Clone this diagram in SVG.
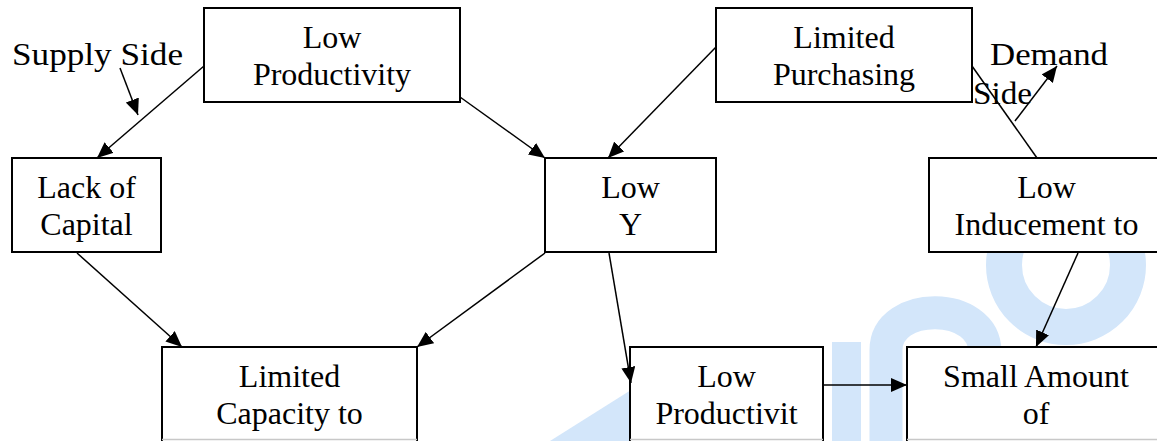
<svg xmlns="http://www.w3.org/2000/svg" width="1157" height="441" viewBox="0 0 1157 441">
  <style>
    .box { fill: #ffffff; stroke: #000000; stroke-width: 2; }
    .lbl { font-size: 32px; fill: #000000; text-anchor: middle; }
    .side { font-size: 32px; fill: #000000; }
    .edge { stroke: #000000; stroke-width: 1.5; fill: none; }
    .arrow { marker-end: url(#ah); }
    .cut { stroke: #c8c8c8; stroke-width: 1.5; }
    .mark { fill: #d3e6fa; }
    .markline { fill: none; stroke: #d3e6fa; }
  </style>
  <defs>
    <marker id="ah" markerUnits="userSpaceOnUse" markerWidth="16" markerHeight="14" viewBox="0 0 16 14" refX="16" refY="7" orient="auto">
      <path d="M0,0 L16,7 L0,14 z" fill="#000000"/>
    </marker>
  </defs>

  <rect x="0" y="0" width="1157" height="441" fill="#ffffff"/>

  <!-- faint background logo -->
  <g id="logo">
    <polygon class="mark" points="550,441 631,390 631,441"/>
    <rect class="mark" x="832" y="342" width="29" height="99"/>
    <path class="markline" stroke-width="33" d="M886,441 L886,350 C886,300 985,300 985,352"/>
    <circle class="markline" cx="1066" cy="265" r="62" stroke-width="36"/>
  </g>

  <g font-family="Liberation Serif, Times New Roman, DejaVu Serif, serif">
    <!-- side captions -->
    <g id="supply-side">
      <text class="side" x="12" y="65" textLength="171" lengthAdjust="spacingAndGlyphs">Supply Side</text>
    </g>
    <g id="demand-side">
      <text class="side" x="990" y="65" textLength="118" lengthAdjust="spacingAndGlyphs">Demand</text>
      <text class="side" x="973" y="104" textLength="59" lengthAdjust="spacingAndGlyphs">Side</text>
    </g>

    <!-- boxes -->
    <g id="low-productivity">
      <rect class="box" x="204" y="8" width="256" height="94"/>
      <text class="lbl" x="332" y="48">Low</text>
      <text class="lbl" x="332" y="85">Productivity</text>
    </g>
    <g id="limited-purchasing">
      <rect class="box" x="716" y="8" width="256" height="94"/>
      <text class="lbl" x="844" y="48">Limited</text>
      <text class="lbl" x="844" y="85">Purchasing</text>
    </g>
    <g id="lack-of-capital">
      <rect class="box" x="12" y="158" width="149" height="94"/>
      <text class="lbl" x="86.5" y="198">Lack of</text>
      <text class="lbl" x="86.5" y="235">Capital</text>
    </g>
    <g id="low-y">
      <rect class="box" x="545" y="158" width="171" height="94"/>
      <text class="lbl" x="630.5" y="198">Low</text>
      <text class="lbl" x="630.5" y="235">Y</text>
    </g>
    <g id="low-inducement">
      <rect class="box" x="929" y="158" width="235" height="94"/>
      <text class="lbl" x="1046.5" y="198">Low</text>
      <text class="lbl" x="1046.5" y="235">Inducement to</text>
    </g>
    <g id="limited-capacity">
      <rect class="box" x="162" y="347" width="255" height="120"/>
      <line class="cut" x1="162" y1="439.5" x2="417" y2="439.5"/>
      <text class="lbl" x="289.5" y="387">Limited</text>
      <text class="lbl" x="289.5" y="424">Capacity to</text>
    </g>
    <g id="low-productivit">
      <rect class="box" x="630" y="347" width="193" height="120"/>
      <line class="cut" x1="630" y1="439.5" x2="823" y2="439.5"/>
      <text class="lbl" x="726.5" y="387">Low</text>
      <text class="lbl" x="726.5" y="424">Productivit</text>
    </g>
    <g id="small-amount">
      <rect class="box" x="907" y="347" width="258" height="120"/>
      <line class="cut" x1="907" y1="439.5" x2="1157" y2="439.5"/>
      <text class="lbl" x="1036" y="387">Small Amount</text>
      <text class="lbl" x="1036" y="424">of</text>
    </g>
  </g>

  <!-- connectors -->
  <g id="connectors">
    <line class="edge arrow" x1="120" y1="68" x2="138" y2="115"/>
    <line class="edge arrow" x1="204" y1="66" x2="97" y2="158"/>
    <line class="edge arrow" x1="460" y1="97" x2="545" y2="158"/>
    <line class="edge arrow" x1="716" y1="47" x2="608" y2="158"/>
    <line class="edge" x1="972" y1="66" x2="1037" y2="158"/>
    <line class="edge arrow" x1="1015" y1="121" x2="1057" y2="66"/>
    <line class="edge arrow" x1="77" y1="253" x2="182" y2="347"/>
    <line class="edge arrow" x1="545" y1="253" x2="417" y2="347"/>
    <line class="edge arrow" x1="609" y1="253" x2="631" y2="383"/>
    <line class="edge arrow" x1="823" y1="385" x2="907" y2="385"/>
    <line class="edge arrow" x1="1078" y1="253" x2="1036" y2="347"/>
  </g>
</svg>
